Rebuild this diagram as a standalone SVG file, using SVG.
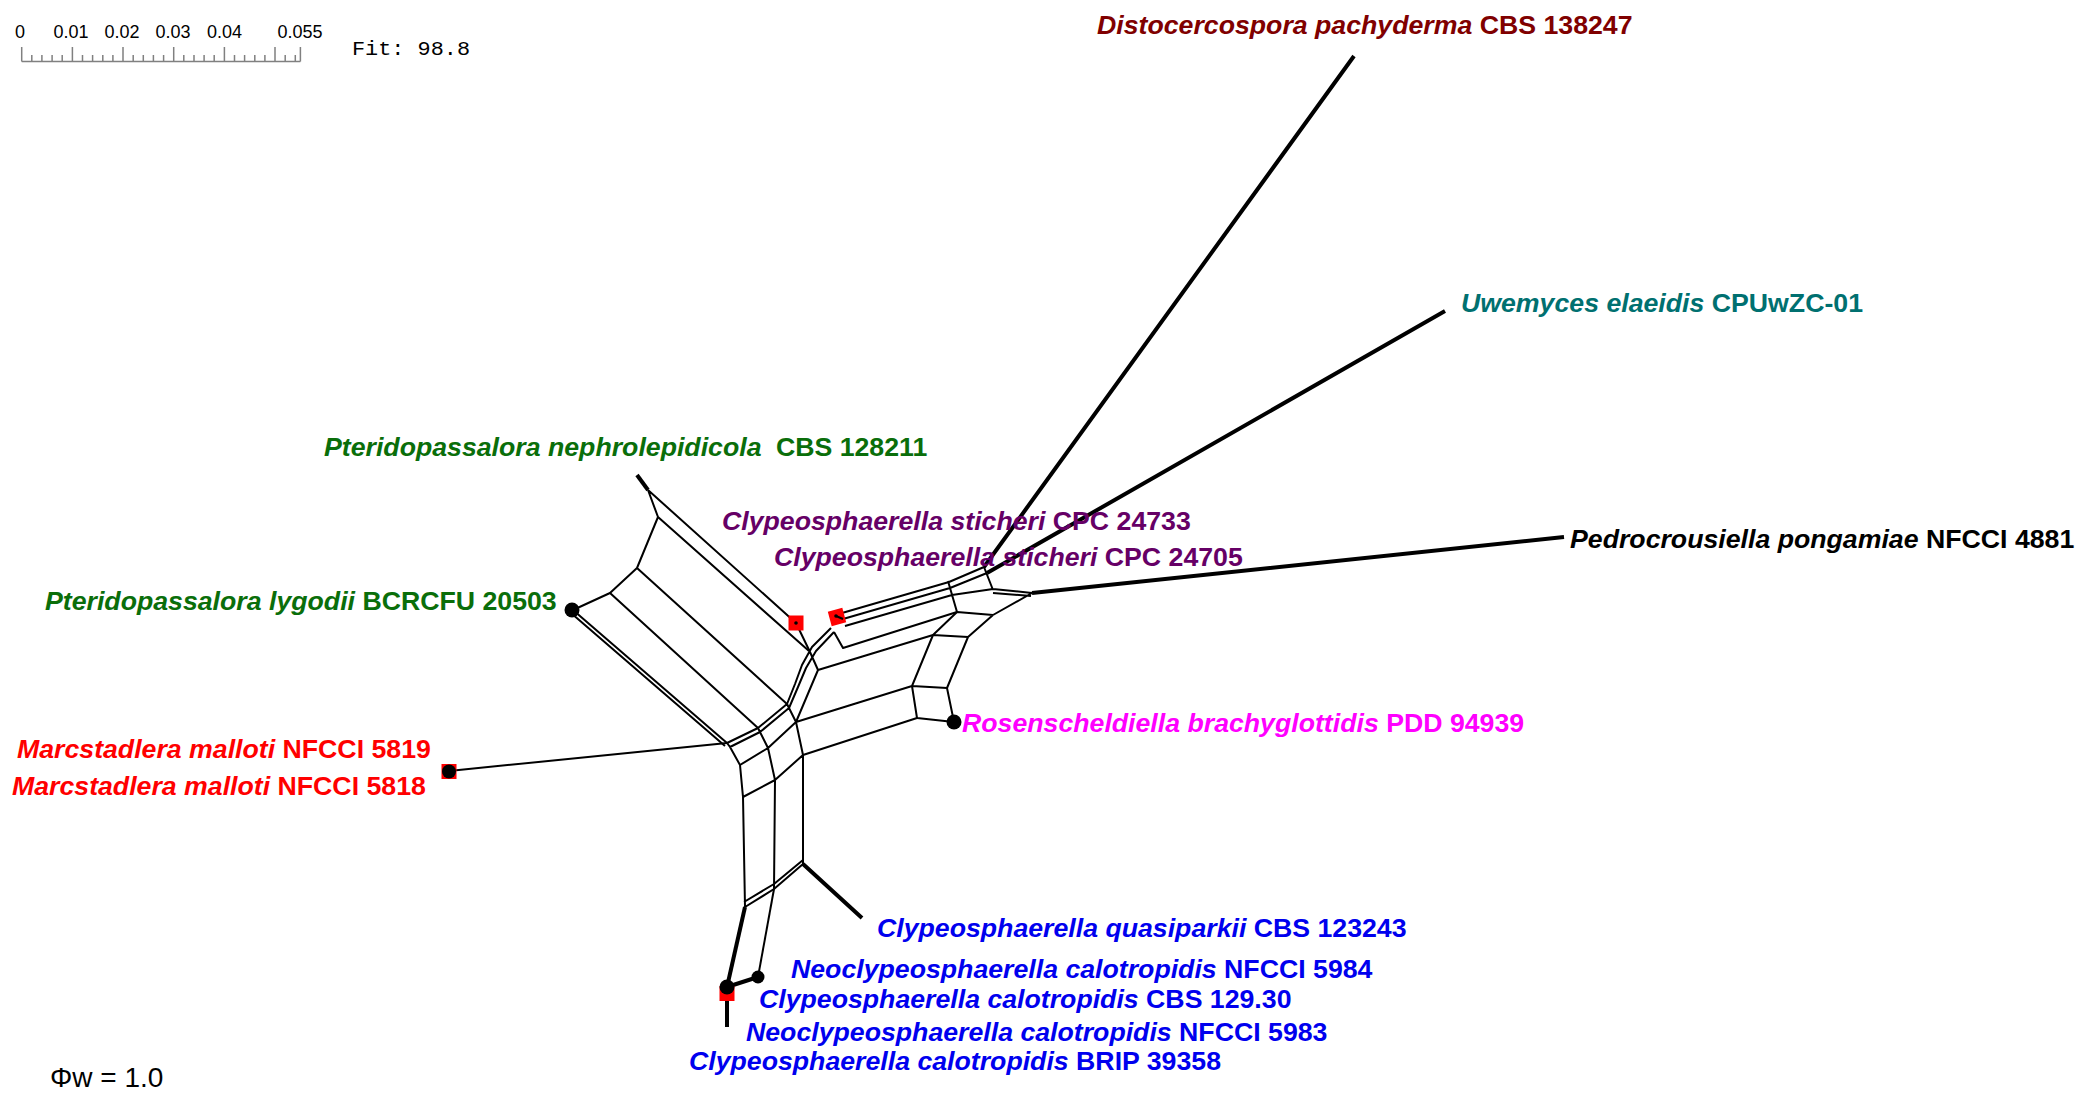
<svg xmlns="http://www.w3.org/2000/svg" width="2085" height="1104" viewBox="0 0 2085 1104">
<style>
.e{stroke:#000;stroke-width:2;fill:none;stroke-linejoin:round}
.t{stroke:#000;stroke-width:4;fill:none;stroke-linecap:butt}
.lbl{font-family:"Liberation Sans",Arial,sans-serif;font-weight:bold;font-size:26.7px}
.sp{font-style:italic}
.sc{font-family:"Liberation Sans",Arial,sans-serif;font-size:18px;fill:#000;text-anchor:middle}
.rul{stroke:#808080;stroke-width:1.5;fill:none}
.red{fill:#ff0000}
</style>
<rect width="2085" height="1104" fill="#fff"/>
<g id="scale">
<path class="rul" d="M21.7,61.5 H300.4 M21.7,47 V61.5 M31.8,55 V61.5 M41.9,55 V61.5 M52.1,55 V61.5 M62.2,55 V61.5 M72.4,47 V61.5 M82.5,55 V61.5 M92.6,55 V61.5 M102.8,55 V61.5 M112.9,55 V61.5 M123,47 V61.5 M133.2,55 V61.5 M143.3,55 V61.5 M153.4,55 V61.5 M163.6,55 V61.5 M173.7,47 V61.5 M183.8,55 V61.5 M194,55 V61.5 M204.1,55 V61.5 M214.2,55 V61.5 M224.4,47 V61.5 M234.5,55 V61.5 M244.6,55 V61.5 M254.8,55 V61.5 M264.9,55 V61.5 M275,47 V61.5 M285.2,55 V61.5 M295.3,55 V61.5 M300.4,47 V61.5"/>
<text class="sc" x="20" y="38">0</text>
<text class="sc" x="71" y="38">0.01</text>
<text class="sc" x="122" y="38">0.02</text>
<text class="sc" x="173" y="38">0.03</text>
<text class="sc" x="224.5" y="38">0.04</text>
<text class="sc" x="300" y="38">0.055</text>
<text x="352" y="55" font-family="Liberation Mono, Courier New, monospace" font-size="19.5" textLength="118" lengthAdjust="spacingAndGlyphs">Fit: 98.8</text>
</g>
<text id="phi" x="50" y="1087" font-family="Liberation Sans, Arial, sans-serif" font-size="28">Φw = 1.0</text>
<g id="connectors">
<path class="t" d="M637,475 L648,490" stroke-width="5" stroke-linecap="round"/>
<path class="e" d="M648,490 L658,517 L637,568 L610,593 L573,610 M648,490 L796,623 M658,517 L809,651 M637,568 L787,704 M610,593 L758,728 M573,610 L727,743 M571,613 L725,746"/>
<path class="e" d="M727,743 L758,728 L787,704 M730,747 L760,732 L789,708 M740,765 L768,748 L796,722 M743,797 L775,780 L803,755 M744,902 L774,884 L803,860 M745,907 L774,889 L803,864 M727,743 L730,747 L740,765 L743,797 L745,907 M758,728 L760,732 L768,748 L775,780 L774,889 M787,704 L789,708 L796,722 L803,755 L803,864"/>
<path class="e" d="M787,704 L795,684 L802,665 L812,647 L831,628 M789,708 L798,687 L806,668 L816,651 L834,632 M796,623 L810,652 L818,670 L796,722 M834,632 L843,648 L957,612 M818,670 L933,635 M796,722 L912,686 M803,755 L917,718"/>
<path class="e" d="M912,686 L917,718 L954,722 M912,686 L947,688 L954,722 M912,686 L933,635 L957,612 M947,688 L968,637 L993,615 M933,635 L968,637 M957,612 L993,615"/>
<path class="e" d="M842,613 L949,582 L984,567 M843,619 L950,588 L987,573 M845,626 L952,595 L993,589 M948,581 L957,612 M984,567 L993,590 M993,589 L1032,593 M993,593 L1031,596 M993,615 L1032,593"/>
<path class="t" stroke-width="3.5" d="M984,567 L1354,56 M987,573 L1445,311 M1032,593 L1564,537"/>
<path class="e" stroke-width="2.5" d="M449,771 L727,743"/>
<path class="t" stroke-width="4.5" d="M745,907 L727,987"/>
<path class="e" d="M774,889 L758,977"/>
<path class="t" d="M727,987 L758,977 M727,995 L727,1027 M803,864 L862,918"/>
</g>
<g id="distocercospora">
<text class="lbl" x="1097" y="34" fill="#800000"><tspan class="sp">Distocercospora pachyderma</tspan> CBS 138247</text>
</g>
<g id="uwemyces">
<text class="lbl" x="1461" y="312" fill="#007070"><tspan class="sp">Uwemyces elaeidis</tspan> CPUwZC-01</text>
</g>
<g id="pt-nephrolepidicola">
<text class="lbl" x="324" y="456" fill="#0a6e0a"><tspan class="sp">Pteridopassalora nephrolepidicola</tspan><tspan dx="7"> CBS 128211</tspan></text>
</g>
<g id="sticheri-24733">
<text class="lbl" x="722" y="530" fill="#660066"><tspan class="sp">Clypeosphaerella sticheri</tspan> CPC 24733</text>
<rect class="red" x="788.5" y="615.5" width="15" height="15"/>
<circle cx="796" cy="623" r="1.8"/>
</g>
<g id="sticheri-24705">
<text class="lbl" x="774" y="566" fill="#660066"><tspan class="sp">Clypeosphaerella sticheri</tspan> CPC 24705</text>
<rect class="red" x="829.5" y="609.5" width="15" height="15" transform="rotate(-15 837 617)"/>
<circle cx="836" cy="616" r="1.8"/>
<path class="e" stroke-width="1.5" d="M836,616 L843,619"/>
</g>
<g id="pedrocrousiella">
<text class="lbl" x="1570" y="548" fill="#000"><tspan class="sp">Pedrocrousiella pongamiae</tspan> NFCCI 4881</text>
</g>
<g id="pt-lygodii">
<text class="lbl" x="45" y="610" fill="#0a6e0a"><tspan class="sp">Pteridopassalora lygodii</tspan> BCRCFU 20503</text>
<circle cx="572" cy="610" r="7.5"/>
</g>
<g id="rosenscheldiella">
<text class="lbl" x="962" y="732" fill="#ff00ff"><tspan class="sp">Rosenscheldiella brachyglottidis</tspan> PDD 94939</text>
<circle cx="954" cy="722" r="7.5"/>
</g>
<g id="marcstadlera">
<text class="lbl" x="17" y="758" fill="#ff0000"><tspan class="sp">Marcstadlera malloti</tspan> NFCCI 5819</text>
<text class="lbl" x="12" y="795" fill="#ff0000"><tspan class="sp">Marcstadlera malloti</tspan> NFCCI 5818</text>
<rect class="red" x="441.5" y="764" width="15" height="15"/>
<circle cx="449" cy="771.5" r="7"/>
</g>
<g id="quasiparkii">
<text class="lbl" x="877" y="937" fill="#0000ee"><tspan class="sp">Clypeosphaerella quasiparkii</tspan> CBS 123243</text>
</g>
<g id="calotropidis">
<text class="lbl" x="791" y="978" fill="#0000ee"><tspan class="sp">Neoclypeosphaerella calotropidis</tspan> NFCCI 5984</text>
<text class="lbl" x="759" y="1008" fill="#0000ee"><tspan class="sp">Clypeosphaerella calotropidis</tspan> CBS 129.30</text>
<text class="lbl" x="746" y="1041" fill="#0000ee"><tspan class="sp">Neoclypeosphaerella calotropidis</tspan> NFCCI 5983</text>
<text class="lbl" x="689" y="1070" fill="#0000ee"><tspan class="sp">Clypeosphaerella calotropidis</tspan> BRIP 39358</text>
<rect class="red" x="719.5" y="986" width="15" height="15"/>
<circle cx="727" cy="987" r="7.5"/>
<circle cx="758" cy="977" r="6.5"/>
</g>
</svg>
